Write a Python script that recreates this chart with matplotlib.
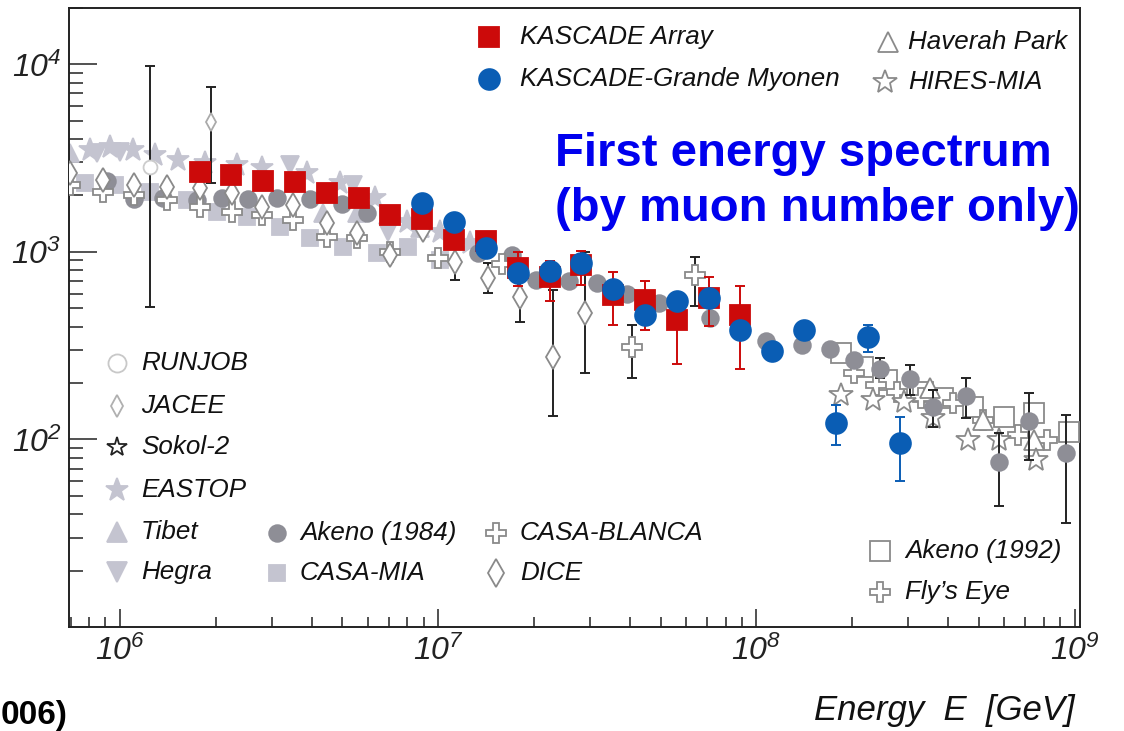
import numpy as np
import matplotlib
matplotlib.use('Agg')
import matplotlib.pyplot as plt

plt.rcParams['font.family'] = ['Liberation Sans', 'DejaVu Sans']
plt.rcParams['mathtext.fontset'] = 'custom'
plt.rcParams['mathtext.rm'] = 'Liberation Sans:italic'
plt.rcParams['mathtext.it'] = 'Liberation Sans:italic'

# ---- data (energy in GeV, flux in arbitrary units) ----
kas_E = [1.78e6, 2.24e6, 2.82e6, 3.55e6, 4.47e6, 5.62e6, 7.08e6, 8.91e6, 1.12e7,
         1.41e7, 1.78e7, 2.24e7, 2.82e7, 3.55e7, 4.47e7, 5.62e7, 7.08e7, 8.91e7]
kas_F = [2670, 2580, 2390, 2360, 2060, 1940, 1570, 1500, 1160,
         1150, 822, 735, 853, 590, 555, 434, 568, 461]
kas_lo = [None] * 10 + [659, 548, 667, 408, 384, 253, 403, 238]
kas_hi = [None] * 10 + [1000, 895, 1012, 782, 700, 582, 736, 659]

grande_E = [8.91e6, 1.12e7, 1.41e7, 1.78e7, 2.24e7, 2.82e7, 3.55e7, 4.47e7,
            5.62e7, 7.08e7, 8.91e7, 1.12e8, 1.41e8, 1.78e8, 2.24e8, 2.82e8]
grande_F = [1825, 1445, 1050, 773, 792, 874, 635, 461,
            548, 568, 384, 296, 384, 122, 352, 96]
grande_lo = [None] * 13 + [93.5, 293, 60]
grande_hi = [None] * 13 + [153, 408, 132]

akeno84_E = [9.1e5, 1.11e6, 1.37e6, 1.75e6, 2.09e6, 2.53e6, 3.12e6, 3.96e6, 4.99e6,
             5.98e6, 1.33e7, 1.70e7, 2.03e7, 2.58e7, 3.16e7, 3.93e7, 4.95e7, 7.16e7,
             1.07e8, 1.39e8, 1.70e8, 2.02e8, 2.45e8, 3.05e8, 3.60e8, 4.57e8, 5.77e8,
             7.17e8, 9.37e8]
akeno84_F = [2390, 1920, 1940, 1890, 1940, 1920, 1940, 1920, 1800,
             1610, 988, 964, 709, 700, 683, 597, 535, 445,
             335, 319, 304, 265, 238, 210, 149, 171, 76,
             126, 85]
akeno84_lo = [None] * 22 + [213, 173, 117, 130, 44, 78, 36]
akeno84_hi = [None] * 22 + [272, 250, 184, 213, 108, 177, 135]

casamia_E = [7.76e5, 9.64e5, 1.24e6, 1.62e6, 2.02e6, 2.51e6, 3.18e6, 3.96e6,
             5.03e6, 6.43e6, 8.05e6, 1.01e7]
casamia_F = [2330, 2280, 2090, 1890, 1630, 1540, 1360, 1190, 1060, 988, 1060, 906]

casablanca_E = [6.96e5, 8.84e5, 1.11e6, 1.41e6, 1.79e6, 2.25e6, 2.80e6, 3.50e6,
                4.48e6, 5.56e6, 7.06e6, 1.0e7, 1.59e7, 4.07e7, 6.43e7]
casablanca_F = [2280, 2090, 2010, 1890, 1740, 1630, 1575, 1480,
                1200, 1190, 1000, 929, 863, 311, 754]
casablanca_lo = [None] * 13 + [213, 515]
casablanca_hi = [None] * 13 + [408, 940]

dice_E = [6.96e5, 8.84e5, 1.11e6, 1.41e6, 1.79e6, 2.25e6, 2.80e6, 3.50e6, 4.48e6,
          5.56e6, 7.06e6, 8.97e6, 1.13e7, 1.43e7, 1.81e7, 2.30e7, 2.90e7]
dice_F = [2640, 2420, 2280, 2220, 2200, 2060, 1740, 1780, 1430,
          1260, 964, 1310, 885, 727, 575, 275, 473]
dice_lo = [None] * 12 + [709, 604, 424, 134, 226]
dice_hi = [None] * 12 + [1105, 875, 780, 627, 1000]

jacee_E, jacee_F, jacee_lo, jacee_hi = [1.93e6], [4930], [2330], [7590]
runjob_E, runjob_F, runjob_lo, runjob_hi = [1.24e6], [2840], [509], [9820]

tibet_E = [6.96e5, 4.35e6, 5.56e6, 8.77e6]
tibet_F = [3370, 1610, 1610, 1340]
eastop_E = [8.05e5, 9.3e5, 1.10e6, 1.29e6, 1.52e6, 1.85e6, 2.33e6, 2.80e6,
            3.87e6, 4.92e6, 6.34e6, 7.99e6, 1.01e7, 1.26e7]
eastop_F = [3500, 3630, 3500, 3290, 3100, 2980, 2910, 2800,
            2640, 2330, 1940, 1445, 1280, 1120]
hegra_E = [8.47e5, 1.0e6, 3.42e6, 5.40e6, 6.96e6]
hegra_F = [3370, 3420, 2910, 2280, 1280]

akeno92_E = [1.84e8, 2.17e8, 2.58e8, 3.33e8, 3.87e8, 4.81e8, 5.98e8, 7.43e8, 9.58e8]
akeno92_F = [289, 244, 208, 179, 166, 149, 132, 138, 110]
flyseye_E = [2.02e8, 2.37e8, 2.77e8, 3.28e8, 4.16e8, 5.17e8, 6.62e8, 8.22e8]
flyseye_F = [226, 195, 179, 166, 157, 127, 106, 99]
haverah_E = [3.52e8, 5.14e8, 7.43e8]
haverah_F = [188, 127, 99]
hires_E = [1.84e8, 2.32e8, 2.90e8, 3.60e8, 4.61e8, 5.77e8, 7.54e8]
hires_F = [173, 162, 158, 130, 99, 99, 78]

# colours
RED = '#cc0a0a'
BLUE = '#0a5db4'
DGRAY = '#8e8e96'
LGRAY = '#c4c4d0'
EDGE = '#8a8a8a'

fig = plt.figure(figsize=(11.24, 7.31), dpi=100)
ax = fig.add_axes([68.5 / 1124, 1 - 627 / 731, (1080 - 68.5) / 1124, (627 - 7.5) / 731])
ax.set_xscale('log')
ax.set_yscale('log')
ax.set_xlim(6.89e5, 1.04e9)
ax.set_ylim(10, 2.01e4)


def series(E, F, marker, ms, face, edge, z, lo=None, hi=None, ecol='#222222', mew=1.3):
    E = np.array(E, float)
    F = np.array(F, float)
    if lo is not None:
        lo = np.array(lo, float)
        hi = np.array(hi, float)
        m = ~np.isnan(lo)
        ax.errorbar(E[m], F[m], yerr=[F[m] - lo[m], hi[m] - F[m]], fmt='none',
                    ecolor=ecol, elinewidth=1.4, capsize=3.5, capthick=1.4, zorder=z - 0.1)
    ax.plot(E, F, ls='none', marker=marker, ms=ms, mfc=face, mec=edge, mew=mew, zorder=z)


series(casamia_E, casamia_F, 's', 11.5, LGRAY, LGRAY, 1)
series(eastop_E, eastop_F, '*', 17, LGRAY, LGRAY, 2)
series(tibet_E, tibet_F, '^', 13, LGRAY, LGRAY, 2)
series(hegra_E, hegra_F, 'v', 13, LGRAY, LGRAY, 2)
series(akeno92_E, akeno92_F, 's', 14, 'white', EDGE, 3)
series(flyseye_E, flyseye_F, 'P', 15, 'white', EDGE, 3)
series(haverah_E, haverah_F, '^', 14, 'white', EDGE, 3)
series(hires_E, hires_F, '*', 18, 'white', EDGE, 3)
series(akeno84_E, akeno84_F, 'o', 12, DGRAY, DGRAY, 3.5, akeno84_lo, akeno84_hi)
series(casablanca_E, casablanca_F, 'P', 15, 'white', EDGE, 4, casablanca_lo, casablanca_hi)
series(dice_E, dice_F, 'd', 12.5, 'white', EDGE, 4, dice_lo, dice_hi)
series(jacee_E, jacee_F, 'd', 9, 'white', '#aaaaaa', 4, jacee_lo, jacee_hi)
series(runjob_E, runjob_F, 'o', 10, 'white', '#cccccc', 4, runjob_lo, runjob_hi)
series(kas_E, kas_F, 's', 14, RED, RED, 5, kas_lo, kas_hi, ecol=RED)
series(grande_E, grande_F, 'o', 15, BLUE, BLUE, 6, grande_lo, grande_hi, ecol=BLUE)

# axes styling
for s in ax.spines.values():
    s.set_linewidth(1.4)
    s.set_color('#222222')
ax.set_xticks([1e6, 1e7, 1e8, 1e9])
ax.set_xticklabels([r'$10^{6}$', r'$10^{7}$', r'$10^{8}$', r'$10^{9}$'])
ax.set_yticks([1e2, 1e3, 1e4])
ax.set_yticklabels([r'$10^{2}$', r'$10^{3}$', r'$10^{4}$'])
ax.xaxis.set_minor_formatter(plt.NullFormatter())
ax.yaxis.set_minor_formatter(plt.NullFormatter())
ax.tick_params(axis='both', which='both', direction='in', top=False, right=False,
               colors='#222222', width=1.1, labelsize=23)
ax.tick_params(axis='y', which='major', length=20, pad=5)
ax.tick_params(axis='y', which='minor', length=10)
ax.tick_params(axis='x', which='major', length=13, pad=6)
ax.tick_params(axis='x', which='minor', length=7)

# legend drawn by hand
def leg(fx, fy, marker, ms, face, edge, label, tx):
    ax.plot([fx], [fy], ls='none', marker=marker, ms=ms, mfc=face, mec=edge, mew=1.3,
            transform=ax.transAxes, clip_on=False, zorder=7)
    ax.text(tx, fy, label, transform=ax.transAxes, fontsize=18.7, style='italic',
            va='center', ha='left', color='#111111', zorder=7)


leg(0.4157, 0.9516, 's', 14, RED, RED, 'KASCADE Array', 0.4464)
leg(0.4157, 0.8846, 'o', 15, BLUE, BLUE, 'KASCADE-Grande Myonen', 0.4464)
leg(0.8101, 0.9451, '^', 14, 'white', EDGE, 'Haverah Park', 0.830)
leg(0.8072, 0.8797, '*', 18, 'white', EDGE, 'HIRES-MIA', 0.830)

leg(0.048, 0.4262, 'o', 13, 'white', '#c8c8c8', 'RUNJOB', 0.0717)
leg(0.048, 0.3567, 'd', 11, 'white', '#b0b0b0', 'JACEE', 0.0717)
leg(0.048, 0.2906, '*', 15, 'white', '#222222', 'Sokol-2', 0.0717)
leg(0.048, 0.2211, '*', 17, LGRAY, LGRAY, 'EASTOP', 0.0717)
leg(0.048, 0.1534, '^', 14, LGRAY, LGRAY, 'Tibet', 0.0717)
leg(0.048, 0.0888, 'v', 14, LGRAY, LGRAY, 'Hegra', 0.0717)
leg(0.2061, 0.1517, 'o', 12, DGRAY, DGRAY, 'Akeno (1984)', 0.2289)
leg(0.2061, 0.0872, 's', 11.5, LGRAY, LGRAY, 'CASA-MIA', 0.2289)
leg(0.4226, 0.1517, 'P', 15, 'white', EDGE, 'CASA-BLANCA', 0.4464)
leg(0.4226, 0.0872, 'd', 14, 'white', EDGE, 'DICE', 0.4464)
leg(0.8022, 0.1227, 's', 14, 'white', EDGE, 'Akeno (1992)', 0.8270)
leg(0.8022, 0.0565, 'P', 15, 'white', EDGE, "Fly\u2019s Eye", 0.8270)

# annotation in blue
ax.text(0.481, 0.7442, 'First energy spectrum', transform=ax.transAxes, fontsize=34,
        fontweight='bold', color='#0000ee', ha='left', va='baseline', zorder=8, clip_on=False)
ax.text(0.481, 0.6554, '(by muon number only)', transform=ax.transAxes, fontsize=34,
        fontweight='bold', color='#0000ee', ha='left', va='baseline', zorder=8, clip_on=False)

fig.text(1075 / 1124, 1 - 720 / 731, 'Energy  E  [GeV]', fontsize=25, style='italic',
         ha='right', va='baseline', color='#111111')
# caption fragment visible in the bottom-left corner of the original slide
fig.text(1 / 1124, 1 - 724 / 731, '006)', fontsize=24, fontweight='bold', ha='left',
         va='baseline', color='black')

fig.savefig('out.png', dpi=100, facecolor='white')
